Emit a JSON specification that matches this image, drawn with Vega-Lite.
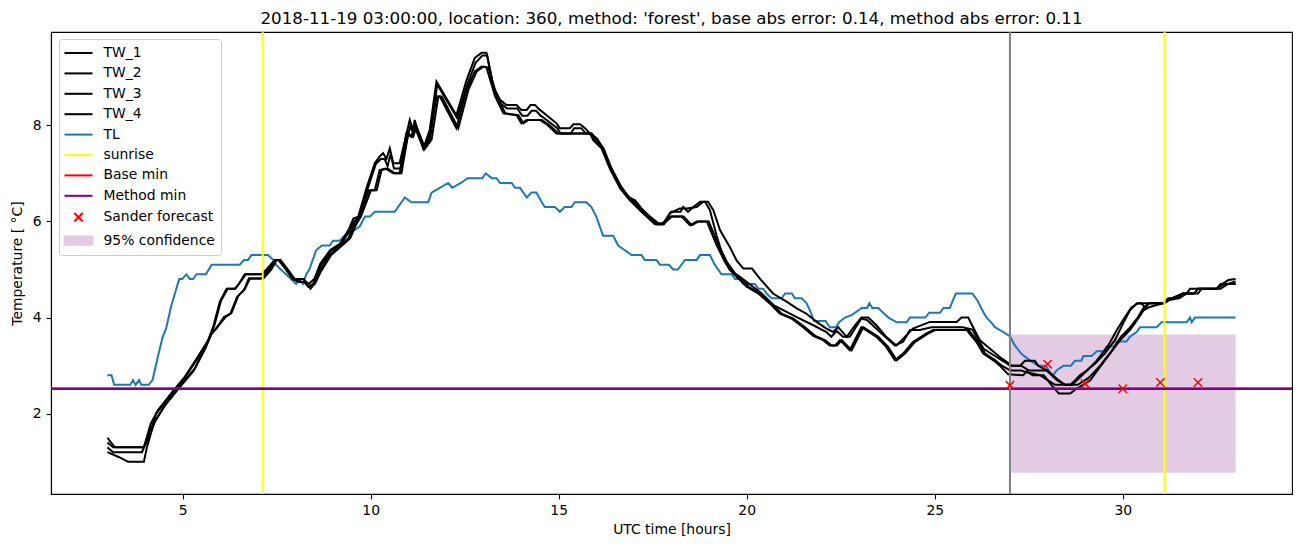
{
"$schema": "https://vega.github.io/schema/vega-lite/v6.json",
"autosize": "none",
"width": 1241, "height": 462,
"padding": {"left": 51, "top": 32, "right": 10, "bottom": 53},
"background": "white",
"config": {
  "font": "DejaVu Sans",
  "view": {"stroke": "black", "strokeWidth": 1.1},
  "axis": {"grid": false, "domainColor": "black", "tickColor": "black", "labelColor": "black", "titleColor": "black", "labelFont": "DejaVu Sans", "titleFont": "DejaVu Sans", "labelFontSize": 13.9, "titleFontSize": 13.9, "titleFontWeight": "normal", "tickSize": 4.9, "tickWidth": 1.1, "domainWidth": 1.1, "labelPadding": 4.9},
  "legend": {"symbolStrokeWidth": 2}
},
"title": {"text": "2018-11-19 03:00:00, location: 360, method: 'forest', base abs error: 0.14, method abs error: 0.11", "fontSize": 16.7, "fontWeight": "normal", "font": "DejaVu Sans", "color": "black", "anchor": "middle", "offset": 3},
"datasets": {
"lines": [
{"s":"TL","t":3.0,"v":2.8},{"s":"TL","t":3.11,"v":2.8},{"s":"TL","t":3.18,"v":2.6},{"s":"TL","t":3.61,"v":2.6},{"s":"TL","t":3.68,"v":2.7},{"s":"TL","t":3.75,"v":2.6},{"s":"TL","t":3.84,"v":2.7},{"s":"TL","t":3.9,"v":2.6},{"s":"TL","t":4.1,"v":2.6},{"s":"TL","t":4.2,"v":2.7},{"s":"TL","t":4.34,"v":3.18},{"s":"TL","t":4.47,"v":3.6},{"s":"TL","t":4.56,"v":3.77},{"s":"TL","t":4.69,"v":4.22},{"s":"TL","t":4.82,"v":4.57},{"s":"TL","t":4.91,"v":4.8},{"s":"TL","t":4.99,"v":4.8},{"s":"TL","t":5.1,"v":4.9},{"s":"TL","t":5.19,"v":4.8},{"s":"TL","t":5.28,"v":4.8},{"s":"TL","t":5.37,"v":4.9},{"s":"TL","t":5.62,"v":4.9},{"s":"TL","t":5.77,"v":5.1},{"s":"TL","t":6.52,"v":5.1},{"s":"TL","t":6.63,"v":5.2},{"s":"TL","t":6.74,"v":5.2},{"s":"TL","t":6.83,"v":5.3},{"s":"TL","t":7.27,"v":5.3},{"s":"TL","t":7.41,"v":5.2},{"s":"TL","t":7.48,"v":5.1},{"s":"TL","t":7.61,"v":5.0},{"s":"TL","t":7.75,"v":4.9},{"s":"TL","t":7.88,"v":4.8},{"s":"TL","t":8.02,"v":4.7},{"s":"TL","t":8.11,"v":4.8},{"s":"TL","t":8.2,"v":4.7},{"s":"TL","t":8.29,"v":4.9},{"s":"TL","t":8.37,"v":5.0},{"s":"TL","t":8.55,"v":5.4},{"s":"TL","t":8.7,"v":5.5},{"s":"TL","t":8.91,"v":5.5},{"s":"TL","t":9.0,"v":5.6},{"s":"TL","t":9.18,"v":5.6},{"s":"TL","t":9.3,"v":5.7},{"s":"TL","t":9.53,"v":5.8},{"s":"TL","t":9.71,"v":5.9},{"s":"TL","t":9.85,"v":6.1},{"s":"TL","t":9.98,"v":6.1},{"s":"TL","t":10.11,"v":6.2},{"s":"TL","t":10.64,"v":6.2},{"s":"TL","t":10.91,"v":6.5},{"s":"TL","t":11.08,"v":6.4},{"s":"TL","t":11.53,"v":6.4},{"s":"TL","t":11.62,"v":6.6},{"s":"TL","t":11.84,"v":6.7},{"s":"TL","t":12.06,"v":6.8},{"s":"TL","t":12.17,"v":6.7},{"s":"TL","t":12.4,"v":6.8},{"s":"TL","t":12.58,"v":6.9},{"s":"TL","t":12.97,"v":6.9},{"s":"TL","t":13.06,"v":7.0},{"s":"TL","t":13.22,"v":6.9},{"s":"TL","t":13.35,"v":6.9},{"s":"TL","t":13.44,"v":6.8},{"s":"TL","t":13.75,"v":6.8},{"s":"TL","t":13.84,"v":6.7},{"s":"TL","t":13.97,"v":6.7},{"s":"TL","t":14.06,"v":6.6},{"s":"TL","t":14.15,"v":6.5},{"s":"TL","t":14.28,"v":6.6},{"s":"TL","t":14.41,"v":6.6},{"s":"TL","t":14.55,"v":6.4},{"s":"TL","t":14.63,"v":6.3},{"s":"TL","t":14.9,"v":6.3},{"s":"TL","t":15.03,"v":6.2},{"s":"TL","t":15.16,"v":6.3},{"s":"TL","t":15.34,"v":6.3},{"s":"TL","t":15.43,"v":6.4},{"s":"TL","t":15.74,"v":6.4},{"s":"TL","t":15.87,"v":6.3},{"s":"TL","t":16.0,"v":6.1},{"s":"TL","t":16.18,"v":5.7},{"s":"TL","t":16.45,"v":5.7},{"s":"TL","t":16.58,"v":5.5},{"s":"TL","t":16.76,"v":5.4},{"s":"TL","t":16.94,"v":5.3},{"s":"TL","t":17.2,"v":5.3},{"s":"TL","t":17.29,"v":5.2},{"s":"TL","t":17.6,"v":5.2},{"s":"TL","t":17.69,"v":5.1},{"s":"TL","t":17.93,"v":5.1},{"s":"TL","t":18.04,"v":5.0},{"s":"TL","t":18.17,"v":5.0},{"s":"TL","t":18.36,"v":5.2},{"s":"TL","t":18.67,"v":5.2},{"s":"TL","t":18.76,"v":5.3},{"s":"TL","t":19.02,"v":5.3},{"s":"TL","t":19.15,"v":5.1},{"s":"TL","t":19.33,"v":4.9},{"s":"TL","t":19.6,"v":4.9},{"s":"TL","t":19.69,"v":4.8},{"s":"TL","t":19.82,"v":4.8},{"s":"TL","t":19.91,"v":4.7},{"s":"TL","t":20.22,"v":4.7},{"s":"TL","t":20.31,"v":4.6},{"s":"TL","t":20.44,"v":4.6},{"s":"TL","t":20.53,"v":4.5},{"s":"TL","t":20.66,"v":4.4},{"s":"TL","t":20.93,"v":4.4},{"s":"TL","t":21.02,"v":4.5},{"s":"TL","t":21.2,"v":4.5},{"s":"TL","t":21.28,"v":4.4},{"s":"TL","t":21.46,"v":4.4},{"s":"TL","t":21.59,"v":4.3},{"s":"TL","t":21.68,"v":4.15},{"s":"TL","t":21.79,"v":3.93},{"s":"TL","t":22.1,"v":3.93},{"s":"TL","t":22.21,"v":3.8},{"s":"TL","t":22.37,"v":3.8},{"s":"TL","t":22.45,"v":3.9},{"s":"TL","t":22.61,"v":4.0},{"s":"TL","t":22.79,"v":4.05},{"s":"TL","t":22.88,"v":4.1},{"s":"TL","t":23.06,"v":4.2},{"s":"TL","t":23.2,"v":4.2},{"s":"TL","t":23.26,"v":4.3},{"s":"TL","t":23.34,"v":4.2},{"s":"TL","t":23.5,"v":4.2},{"s":"TL","t":23.63,"v":4.1},{"s":"TL","t":23.77,"v":4.0},{"s":"TL","t":23.99,"v":3.9},{"s":"TL","t":24.25,"v":3.9},{"s":"TL","t":24.34,"v":4.0},{"s":"TL","t":24.75,"v":4.0},{"s":"TL","t":24.85,"v":4.1},{"s":"TL","t":25.14,"v":4.1},{"s":"TL","t":25.23,"v":4.2},{"s":"TL","t":25.4,"v":4.2},{"s":"TL","t":25.56,"v":4.5},{"s":"TL","t":26.0,"v":4.5},{"s":"TL","t":26.14,"v":4.35},{"s":"TL","t":26.3,"v":4.1},{"s":"TL","t":26.38,"v":4.0},{"s":"TL","t":26.5,"v":3.9},{"s":"TL","t":26.6,"v":3.8},{"s":"TL","t":26.82,"v":3.7},{"s":"TL","t":27.0,"v":3.61},{"s":"TL","t":27.13,"v":3.42},{"s":"TL","t":27.31,"v":3.24},{"s":"TL","t":27.53,"v":3.11},{"s":"TL","t":27.75,"v":3.0},{"s":"TL","t":27.95,"v":3.0},{"s":"TL","t":28.06,"v":2.87},{"s":"TL","t":28.15,"v":2.8},{"s":"TL","t":28.24,"v":2.9},{"s":"TL","t":28.42,"v":3.0},{"s":"TL","t":28.62,"v":3.0},{"s":"TL","t":28.73,"v":3.1},{"s":"TL","t":28.9,"v":3.1},{"s":"TL","t":28.95,"v":3.2},{"s":"TL","t":29.17,"v":3.2},{"s":"TL","t":29.31,"v":3.3},{"s":"TL","t":29.5,"v":3.3},{"s":"TL","t":29.57,"v":3.4},{"s":"TL","t":29.78,"v":3.4},{"s":"TL","t":29.84,"v":3.5},{"s":"TL","t":30.1,"v":3.5},{"s":"TL","t":30.19,"v":3.6},{"s":"TL","t":30.37,"v":3.7},{"s":"TL","t":30.46,"v":3.8},{"s":"TL","t":30.9,"v":3.8},{"s":"TL","t":31.03,"v":3.9},{"s":"TL","t":31.7,"v":3.9},{"s":"TL","t":31.79,"v":4.0},{"s":"TL","t":31.83,"v":3.9},{"s":"TL","t":31.92,"v":4.0},{"s":"TL","t":33.0,"v":4.0},

{"s":"TW_1","t":3.0,"v":1.5},{"s":"TW_1","t":3.1,"v":1.4},{"s":"TW_1","t":3.2,"v":1.3},{"s":"TW_1","t":3.97,"v":1.3},{"s":"TW_1","t":4.15,"v":1.79},{"s":"TW_1","t":4.34,"v":2.07},{"s":"TW_1","t":4.69,"v":2.42},{"s":"TW_1","t":5.05,"v":2.76},{"s":"TW_1","t":5.4,"v":3.18},{"s":"TW_1","t":5.68,"v":3.53},{"s":"TW_1","t":5.81,"v":3.8},{"s":"TW_1","t":5.99,"v":4.33},{"s":"TW_1","t":6.17,"v":4.6},{"s":"TW_1","t":6.39,"v":4.6},{"s":"TW_1","t":6.5,"v":4.7},{"s":"TW_1","t":6.65,"v":4.9},{"s":"TW_1","t":7.1,"v":4.9},{"s":"TW_1","t":7.23,"v":5.0},{"s":"TW_1","t":7.45,"v":5.2},{"s":"TW_1","t":7.55,"v":5.2},{"s":"TW_1","t":7.75,"v":5.0},{"s":"TW_1","t":7.93,"v":4.8},{"s":"TW_1","t":8.2,"v":4.8},{"s":"TW_1","t":8.35,"v":4.7},{"s":"TW_1","t":8.5,"v":4.8},{"s":"TW_1","t":8.66,"v":5.12},{"s":"TW_1","t":8.92,"v":5.4},{"s":"TW_1","t":9.19,"v":5.54},{"s":"TW_1","t":9.41,"v":5.82},{"s":"TW_1","t":9.54,"v":6.06},{"s":"TW_1","t":9.67,"v":6.1},{"s":"TW_1","t":9.9,"v":6.72},{"s":"TW_1","t":10.11,"v":7.21},{"s":"TW_1","t":10.24,"v":7.35},{"s":"TW_1","t":10.33,"v":7.42},{"s":"TW_1","t":10.42,"v":7.3},{"s":"TW_1","t":10.51,"v":7.52},{"s":"TW_1","t":10.6,"v":7.21},{"s":"TW_1","t":10.77,"v":7.21},{"s":"TW_1","t":11.04,"v":8.11},{"s":"TW_1","t":11.13,"v":7.9},{"s":"TW_1","t":11.17,"v":8.11},{"s":"TW_1","t":11.4,"v":7.52},{"s":"TW_1","t":11.57,"v":7.9},{"s":"TW_1","t":11.75,"v":8.91},{"s":"TW_1","t":12.28,"v":8.21},{"s":"TW_1","t":12.55,"v":8.94},{"s":"TW_1","t":12.77,"v":9.4},{"s":"TW_1","t":12.95,"v":9.51},{"s":"TW_1","t":13.08,"v":9.51},{"s":"TW_1","t":13.26,"v":8.8},{"s":"TW_1","t":13.44,"v":8.53},{"s":"TW_1","t":13.61,"v":8.42},{"s":"TW_1","t":13.88,"v":8.42},{"s":"TW_1","t":14.01,"v":8.32},{"s":"TW_1","t":14.15,"v":8.32},{"s":"TW_1","t":14.25,"v":8.42},{"s":"TW_1","t":14.37,"v":8.42},{"s":"TW_1","t":14.5,"v":8.32},{"s":"TW_1","t":14.68,"v":8.21},{"s":"TW_1","t":14.94,"v":8.04},{"s":"TW_1","t":15.03,"v":7.94},{"s":"TW_1","t":15.3,"v":7.94},{"s":"TW_1","t":15.39,"v":8.02},{"s":"TW_1","t":15.57,"v":8.02},{"s":"TW_1","t":15.7,"v":7.94},{"s":"TW_1","t":15.83,"v":7.83},{"s":"TW_1","t":16.01,"v":7.73},{"s":"TW_1","t":16.18,"v":7.52},{"s":"TW_1","t":16.36,"v":7.14},{"s":"TW_1","t":16.63,"v":6.76},{"s":"TW_1","t":16.85,"v":6.51},{"s":"TW_1","t":17.03,"v":6.44},{"s":"TW_1","t":17.2,"v":6.27},{"s":"TW_1","t":17.43,"v":6.1},{"s":"TW_1","t":17.65,"v":5.96},{"s":"TW_1","t":17.78,"v":5.96},{"s":"TW_1","t":17.96,"v":6.17},{"s":"TW_1","t":18.22,"v":6.27},{"s":"TW_1","t":18.4,"v":6.27},{"s":"TW_1","t":18.67,"v":6.3},{"s":"TW_1","t":18.84,"v":6.41},{"s":"TW_1","t":18.97,"v":6.41},{"s":"TW_1","t":19.11,"v":6.24},{"s":"TW_1","t":19.29,"v":5.82},{"s":"TW_1","t":19.55,"v":5.47},{"s":"TW_1","t":19.73,"v":5.19},{"s":"TW_1","t":19.91,"v":5.02},{"s":"TW_1","t":20.14,"v":5.02},{"s":"TW_1","t":20.35,"v":4.81},{"s":"TW_1","t":20.7,"v":4.5},{"s":"TW_1","t":21.06,"v":4.33},{"s":"TW_1","t":21.33,"v":4.19},{"s":"TW_1","t":21.59,"v":4.08},{"s":"TW_1","t":21.86,"v":3.91},{"s":"TW_1","t":22.12,"v":3.77},{"s":"TW_1","t":22.3,"v":3.7},{"s":"TW_1","t":22.43,"v":3.8},{"s":"TW_1","t":22.66,"v":3.6},{"s":"TW_1","t":22.88,"v":3.84},{"s":"TW_1","t":23.05,"v":4.0},{"s":"TW_1","t":23.23,"v":4.0},{"s":"TW_1","t":23.45,"v":3.84},{"s":"TW_1","t":23.71,"v":3.6},{"s":"TW_1","t":23.98,"v":3.42},{"s":"TW_1","t":24.16,"v":3.56},{"s":"TW_1","t":24.42,"v":3.77},{"s":"TW_1","t":24.87,"v":3.91},{"s":"TW_1","t":25.58,"v":3.91},{"s":"TW_1","t":25.71,"v":4.0},{"s":"TW_1","t":25.89,"v":4.0},{"s":"TW_1","t":26.02,"v":3.8},{"s":"TW_1","t":26.2,"v":3.53},{"s":"TW_1","t":26.47,"v":3.35},{"s":"TW_1","t":26.73,"v":3.18},{"s":"TW_1","t":26.91,"v":3.08},{"s":"TW_1","t":27.04,"v":3.0},{"s":"TW_1","t":27.27,"v":3.0},{"s":"TW_1","t":27.4,"v":3.1},{"s":"TW_1","t":27.66,"v":3.1},{"s":"TW_1","t":27.75,"v":3.0},{"s":"TW_1","t":27.98,"v":2.9},{"s":"TW_1","t":28.24,"v":2.73},{"s":"TW_1","t":28.46,"v":2.6},{"s":"TW_1","t":28.6,"v":2.6},{"s":"TW_1","t":28.73,"v":2.69},{"s":"TW_1","t":28.86,"v":2.8},{"s":"TW_1","t":29.04,"v":2.9},{"s":"TW_1","t":29.26,"v":3.04},{"s":"TW_1","t":29.52,"v":3.25},{"s":"TW_1","t":29.79,"v":3.53},{"s":"TW_1","t":30.01,"v":3.88},{"s":"TW_1","t":30.19,"v":4.15},{"s":"TW_1","t":30.37,"v":4.29},{"s":"TW_1","t":30.5,"v":4.29},{"s":"TW_1","t":30.6,"v":4.2},{"s":"TW_1","t":30.7,"v":4.3},{"s":"TW_1","t":31.08,"v":4.3},{"s":"TW_1","t":31.21,"v":4.4},{"s":"TW_1","t":31.5,"v":4.4},{"s":"TW_1","t":31.7,"v":4.5},{"s":"TW_1","t":31.79,"v":4.6},{"s":"TW_1","t":32.49,"v":4.6},{"s":"TW_1","t":32.59,"v":4.67},{"s":"TW_1","t":32.81,"v":4.78},{"s":"TW_1","t":33.0,"v":4.8},

{"s":"TW_2","t":3.0,"v":1.3},{"s":"TW_2","t":3.15,"v":1.2},{"s":"TW_2","t":3.92,"v":1.2},{"s":"TW_2","t":4.12,"v":1.6},{"s":"TW_2","t":4.3,"v":2.0},{"s":"TW_2","t":4.69,"v":2.4},{"s":"TW_2","t":5.05,"v":2.74},{"s":"TW_2","t":5.4,"v":3.15},{"s":"TW_2","t":5.7,"v":3.55},{"s":"TW_2","t":5.85,"v":3.85},{"s":"TW_2","t":6.02,"v":4.35},{"s":"TW_2","t":6.2,"v":4.6},{"s":"TW_2","t":6.4,"v":4.6},{"s":"TW_2","t":6.68,"v":4.9},{"s":"TW_2","t":7.12,"v":4.9},{"s":"TW_2","t":7.26,"v":5.0},{"s":"TW_2","t":7.47,"v":5.2},{"s":"TW_2","t":7.57,"v":5.2},{"s":"TW_2","t":7.77,"v":5.0},{"s":"TW_2","t":7.95,"v":4.8},{"s":"TW_2","t":8.22,"v":4.8},{"s":"TW_2","t":8.4,"v":4.6},{"s":"TW_2","t":8.5,"v":4.7},{"s":"TW_2","t":8.68,"v":5.1},{"s":"TW_2","t":8.95,"v":5.4},{"s":"TW_2","t":9.2,"v":5.5},{"s":"TW_2","t":9.43,"v":5.8},{"s":"TW_2","t":9.56,"v":6.0},{"s":"TW_2","t":9.7,"v":6.1},{"s":"TW_2","t":9.93,"v":6.7},{"s":"TW_2","t":10.14,"v":7.2},{"s":"TW_2","t":10.27,"v":7.3},{"s":"TW_2","t":10.37,"v":7.3},{"s":"TW_2","t":10.45,"v":7.15},{"s":"TW_2","t":10.53,"v":7.4},{"s":"TW_2","t":10.62,"v":7.1},{"s":"TW_2","t":10.79,"v":7.1},{"s":"TW_2","t":11.06,"v":8.0},{"s":"TW_2","t":11.14,"v":7.8},{"s":"TW_2","t":11.19,"v":8.0},{"s":"TW_2","t":11.42,"v":7.5},{"s":"TW_2","t":11.6,"v":7.85},{"s":"TW_2","t":11.77,"v":8.85},{"s":"TW_2","t":12.3,"v":8.15},{"s":"TW_2","t":12.57,"v":8.85},{"s":"TW_2","t":12.79,"v":9.3},{"s":"TW_2","t":12.97,"v":9.45},{"s":"TW_2","t":13.1,"v":9.45},{"s":"TW_2","t":13.28,"v":8.75},{"s":"TW_2","t":13.46,"v":8.45},{"s":"TW_2","t":13.63,"v":8.35},{"s":"TW_2","t":13.9,"v":8.35},{"s":"TW_2","t":14.03,"v":8.2},{"s":"TW_2","t":14.17,"v":8.2},{"s":"TW_2","t":14.28,"v":8.3},{"s":"TW_2","t":14.4,"v":8.3},{"s":"TW_2","t":14.52,"v":8.2},{"s":"TW_2","t":14.7,"v":8.1},{"s":"TW_2","t":14.96,"v":7.94},{"s":"TW_2","t":15.05,"v":7.83},{"s":"TW_2","t":15.32,"v":7.83},{"s":"TW_2","t":15.41,"v":7.94},{"s":"TW_2","t":15.6,"v":7.94},{"s":"TW_2","t":15.72,"v":7.83},{"s":"TW_2","t":15.86,"v":7.83},{"s":"TW_2","t":16.03,"v":7.7},{"s":"TW_2","t":16.2,"v":7.5},{"s":"TW_2","t":16.38,"v":7.1},{"s":"TW_2","t":16.65,"v":6.72},{"s":"TW_2","t":16.87,"v":6.5},{"s":"TW_2","t":17.05,"v":6.4},{"s":"TW_2","t":17.22,"v":6.25},{"s":"TW_2","t":17.45,"v":6.05},{"s":"TW_2","t":17.62,"v":5.94},{"s":"TW_2","t":17.8,"v":5.94},{"s":"TW_2","t":17.98,"v":6.2},{"s":"TW_2","t":18.24,"v":6.2},{"s":"TW_2","t":18.31,"v":6.3},{"s":"TW_2","t":18.44,"v":6.2},{"s":"TW_2","t":18.58,"v":6.3},{"s":"TW_2","t":18.76,"v":6.41},{"s":"TW_2","t":18.89,"v":6.41},{"s":"TW_2","t":19.02,"v":6.24},{"s":"TW_2","t":19.2,"v":5.7},{"s":"TW_2","t":19.4,"v":5.2},{"s":"TW_2","t":19.55,"v":4.99},{"s":"TW_2","t":19.82,"v":4.85},{"s":"TW_2","t":20.4,"v":4.5},{"s":"TW_2","t":20.71,"v":4.26},{"s":"TW_2","t":21.06,"v":4.12},{"s":"TW_2","t":21.41,"v":3.98},{"s":"TW_2","t":21.77,"v":3.84},{"s":"TW_2","t":22.12,"v":3.7},{"s":"TW_2","t":22.25,"v":3.6},{"s":"TW_2","t":22.39,"v":3.72},{"s":"TW_2","t":22.56,"v":3.6},{"s":"TW_2","t":22.74,"v":3.6},{"s":"TW_2","t":23.05,"v":3.98},{"s":"TW_2","t":23.2,"v":3.95},{"s":"TW_2","t":23.5,"v":3.73},{"s":"TW_2","t":23.94,"v":3.42},{"s":"TW_2","t":24.16,"v":3.5},{"s":"TW_2","t":24.34,"v":3.74},{"s":"TW_2","t":24.6,"v":3.74},{"s":"TW_2","t":24.92,"v":3.8},{"s":"TW_2","t":25.75,"v":3.8},{"s":"TW_2","t":26.0,"v":3.75},{"s":"TW_2","t":26.15,"v":3.55},{"s":"TW_2","t":26.3,"v":3.35},{"s":"TW_2","t":26.6,"v":3.2},{"s":"TW_2","t":26.85,"v":3.08},{"s":"TW_2","t":27.0,"v":3.0},{"s":"TW_2","t":27.3,"v":3.0},{"s":"TW_2","t":27.5,"v":2.9},{"s":"TW_2","t":27.98,"v":2.9},{"s":"TW_2","t":28.24,"v":2.7},{"s":"TW_2","t":28.46,"v":2.6},{"s":"TW_2","t":28.65,"v":2.6},{"s":"TW_2","t":28.85,"v":2.75},{"s":"TW_2","t":29.05,"v":2.9},{"s":"TW_2","t":29.3,"v":3.1},{"s":"TW_2","t":29.6,"v":3.4},{"s":"TW_2","t":29.85,"v":3.75},{"s":"TW_2","t":30.05,"v":4.0},{"s":"TW_2","t":30.22,"v":4.2},{"s":"TW_2","t":30.4,"v":4.3},{"s":"TW_2","t":31.1,"v":4.3},{"s":"TW_2","t":31.3,"v":4.4},{"s":"TW_2","t":31.6,"v":4.5},{"s":"TW_2","t":32.0,"v":4.5},{"s":"TW_2","t":32.1,"v":4.6},{"s":"TW_2","t":32.6,"v":4.6},{"s":"TW_2","t":32.8,"v":4.7},{"s":"TW_2","t":33.0,"v":4.75},

{"s":"TW_3","t":3.0,"v":1.4},{"s":"TW_3","t":3.15,"v":1.3},{"s":"TW_3","t":3.97,"v":1.3},{"s":"TW_3","t":4.1,"v":1.5},{"s":"TW_3","t":4.27,"v":1.85},{"s":"TW_3","t":4.55,"v":2.2},{"s":"TW_3","t":4.9,"v":2.55},{"s":"TW_3","t":5.33,"v":2.95},{"s":"TW_3","t":5.6,"v":3.35},{"s":"TW_3","t":5.77,"v":3.66},{"s":"TW_3","t":5.95,"v":3.83},{"s":"TW_3","t":6.13,"v":4.0},{"s":"TW_3","t":6.3,"v":4.1},{"s":"TW_3","t":6.48,"v":4.45},{"s":"TW_3","t":6.66,"v":4.6},{"s":"TW_3","t":6.79,"v":4.81},{"s":"TW_3","t":7.15,"v":4.81},{"s":"TW_3","t":7.36,"v":5.0},{"s":"TW_3","t":7.5,"v":5.19},{"s":"TW_3","t":7.6,"v":5.2},{"s":"TW_3","t":7.8,"v":5.0},{"s":"TW_3","t":7.98,"v":4.8},{"s":"TW_3","t":8.15,"v":4.74},{"s":"TW_3","t":8.28,"v":4.74},{"s":"TW_3","t":8.39,"v":4.64},{"s":"TW_3","t":8.52,"v":4.7},{"s":"TW_3","t":8.67,"v":4.95},{"s":"TW_3","t":8.95,"v":5.3},{"s":"TW_3","t":9.24,"v":5.5},{"s":"TW_3","t":9.46,"v":5.65},{"s":"TW_3","t":9.59,"v":5.9},{"s":"TW_3","t":9.74,"v":6.1},{"s":"TW_3","t":10.01,"v":6.65},{"s":"TW_3","t":10.16,"v":6.65},{"s":"TW_3","t":10.29,"v":7.07},{"s":"TW_3","t":10.45,"v":7.1},{"s":"TW_3","t":10.65,"v":7.0},{"s":"TW_3","t":10.82,"v":7.0},{"s":"TW_3","t":11.0,"v":7.83},{"s":"TW_3","t":11.13,"v":7.76},{"s":"TW_3","t":11.22,"v":7.97},{"s":"TW_3","t":11.45,"v":7.52},{"s":"TW_3","t":11.62,"v":7.7},{"s":"TW_3","t":11.8,"v":8.6},{"s":"TW_3","t":11.89,"v":8.6},{"s":"TW_3","t":12.33,"v":7.94},{"s":"TW_3","t":12.6,"v":8.74},{"s":"TW_3","t":12.82,"v":9.12},{"s":"TW_3","t":13.0,"v":9.22},{"s":"TW_3","t":13.13,"v":9.2},{"s":"TW_3","t":13.36,"v":8.6},{"s":"TW_3","t":13.58,"v":8.25},{"s":"TW_3","t":13.93,"v":8.21},{"s":"TW_3","t":14.06,"v":8.04},{"s":"TW_3","t":14.2,"v":8.11},{"s":"TW_3","t":14.55,"v":8.11},{"s":"TW_3","t":14.73,"v":8.02},{"s":"TW_3","t":14.99,"v":7.83},{"s":"TW_3","t":15.3,"v":7.83},{"s":"TW_3","t":15.88,"v":7.83},{"s":"TW_3","t":15.97,"v":7.69},{"s":"TW_3","t":16.19,"v":7.52},{"s":"TW_3","t":16.41,"v":7.1},{"s":"TW_3","t":16.68,"v":6.69},{"s":"TW_3","t":16.93,"v":6.45},{"s":"TW_3","t":17.25,"v":6.2},{"s":"TW_3","t":17.61,"v":5.94},{"s":"TW_3","t":17.78,"v":5.94},{"s":"TW_3","t":18.01,"v":6.1},{"s":"TW_3","t":18.32,"v":6.1},{"s":"TW_3","t":18.54,"v":5.92},{"s":"TW_3","t":18.72,"v":6.0},{"s":"TW_3","t":18.99,"v":6.0},{"s":"TW_3","t":19.12,"v":5.75},{"s":"TW_3","t":19.25,"v":5.51},{"s":"TW_3","t":19.47,"v":5.16},{"s":"TW_3","t":19.69,"v":4.92},{"s":"TW_3","t":20.05,"v":4.64},{"s":"TW_3","t":20.36,"v":4.5},{"s":"TW_3","t":20.67,"v":4.29},{"s":"TW_3","t":20.93,"v":4.08},{"s":"TW_3","t":21.24,"v":3.98},{"s":"TW_3","t":21.55,"v":3.8},{"s":"TW_3","t":21.82,"v":3.62},{"s":"TW_3","t":22.08,"v":3.53},{"s":"TW_3","t":22.26,"v":3.42},{"s":"TW_3","t":22.4,"v":3.42},{"s":"TW_3","t":22.53,"v":3.53},{"s":"TW_3","t":22.79,"v":3.32},{"s":"TW_3","t":23.1,"v":3.8},{"s":"TW_3","t":23.5,"v":3.6},{"s":"TW_3","t":23.76,"v":3.39},{"s":"TW_3","t":23.99,"v":3.11},{"s":"TW_3","t":24.21,"v":3.25},{"s":"TW_3","t":24.47,"v":3.49},{"s":"TW_3","t":24.83,"v":3.67},{"s":"TW_3","t":25.01,"v":3.74},{"s":"TW_3","t":25.9,"v":3.74},{"s":"TW_3","t":26.16,"v":3.49},{"s":"TW_3","t":26.34,"v":3.25},{"s":"TW_3","t":26.61,"v":3.11},{"s":"TW_3","t":26.78,"v":3.0},{"s":"TW_3","t":26.9,"v":2.95},{"s":"TW_3","t":27.0,"v":2.9},{"s":"TW_3","t":27.3,"v":2.9},{"s":"TW_3","t":27.5,"v":2.85},{"s":"TW_3","t":27.8,"v":2.8},{"s":"TW_3","t":28.0,"v":2.7},{"s":"TW_3","t":28.2,"v":2.6},{"s":"TW_3","t":28.8,"v":2.6},{"s":"TW_3","t":29.1,"v":2.75},{"s":"TW_3","t":29.4,"v":3.0},{"s":"TW_3","t":29.7,"v":3.3},{"s":"TW_3","t":29.95,"v":3.6},{"s":"TW_3","t":30.2,"v":3.8},{"s":"TW_3","t":30.4,"v":4.0},{"s":"TW_3","t":30.55,"v":4.2},{"s":"TW_3","t":30.7,"v":4.3},{"s":"TW_3","t":31.1,"v":4.3},{"s":"TW_3","t":31.3,"v":4.4},{"s":"TW_3","t":31.6,"v":4.5},{"s":"TW_3","t":31.9,"v":4.5},{"s":"TW_3","t":32.0,"v":4.6},{"s":"TW_3","t":32.5,"v":4.6},{"s":"TW_3","t":32.7,"v":4.7},{"s":"TW_3","t":33.0,"v":4.7},

{"s":"TW_4","t":3.0,"v":1.2},{"s":"TW_4","t":3.3,"v":1.1},{"s":"TW_4","t":3.55,"v":1.0},{"s":"TW_4","t":3.97,"v":1.0},{"s":"TW_4","t":4.05,"v":1.3},{"s":"TW_4","t":4.23,"v":1.79},{"s":"TW_4","t":4.5,"v":2.14},{"s":"TW_4","t":4.86,"v":2.49},{"s":"TW_4","t":5.3,"v":2.9},{"s":"TW_4","t":5.57,"v":3.32},{"s":"TW_4","t":5.74,"v":3.63},{"s":"TW_4","t":5.92,"v":3.8},{"s":"TW_4","t":6.1,"v":4.01},{"s":"TW_4","t":6.27,"v":4.08},{"s":"TW_4","t":6.45,"v":4.43},{"s":"TW_4","t":6.63,"v":4.57},{"s":"TW_4","t":6.76,"v":4.81},{"s":"TW_4","t":7.1,"v":4.81},{"s":"TW_4","t":7.31,"v":5.0},{"s":"TW_4","t":7.45,"v":5.19},{"s":"TW_4","t":7.55,"v":5.2},{"s":"TW_4","t":7.75,"v":5.0},{"s":"TW_4","t":7.93,"v":4.8},{"s":"TW_4","t":8.1,"v":4.74},{"s":"TW_4","t":8.23,"v":4.74},{"s":"TW_4","t":8.34,"v":4.64},{"s":"TW_4","t":8.47,"v":4.7},{"s":"TW_4","t":8.62,"v":4.95},{"s":"TW_4","t":8.9,"v":5.3},{"s":"TW_4","t":9.19,"v":5.5},{"s":"TW_4","t":9.41,"v":5.65},{"s":"TW_4","t":9.54,"v":5.9},{"s":"TW_4","t":9.69,"v":6.1},{"s":"TW_4","t":9.96,"v":6.65},{"s":"TW_4","t":10.11,"v":6.65},{"s":"TW_4","t":10.24,"v":7.07},{"s":"TW_4","t":10.4,"v":7.1},{"s":"TW_4","t":10.6,"v":7.0},{"s":"TW_4","t":10.77,"v":7.0},{"s":"TW_4","t":10.95,"v":7.83},{"s":"TW_4","t":11.08,"v":7.76},{"s":"TW_4","t":11.17,"v":7.97},{"s":"TW_4","t":11.4,"v":7.52},{"s":"TW_4","t":11.57,"v":7.7},{"s":"TW_4","t":11.75,"v":8.6},{"s":"TW_4","t":11.84,"v":8.6},{"s":"TW_4","t":12.28,"v":7.94},{"s":"TW_4","t":12.55,"v":8.74},{"s":"TW_4","t":12.77,"v":9.12},{"s":"TW_4","t":12.95,"v":9.22},{"s":"TW_4","t":13.08,"v":9.2},{"s":"TW_4","t":13.31,"v":8.6},{"s":"TW_4","t":13.53,"v":8.25},{"s":"TW_4","t":13.88,"v":8.21},{"s":"TW_4","t":14.01,"v":8.04},{"s":"TW_4","t":14.15,"v":8.11},{"s":"TW_4","t":14.5,"v":8.11},{"s":"TW_4","t":14.68,"v":8.02},{"s":"TW_4","t":14.94,"v":7.83},{"s":"TW_4","t":15.25,"v":7.83},{"s":"TW_4","t":15.83,"v":7.83},{"s":"TW_4","t":15.92,"v":7.69},{"s":"TW_4","t":16.14,"v":7.52},{"s":"TW_4","t":16.36,"v":7.1},{"s":"TW_4","t":16.63,"v":6.69},{"s":"TW_4","t":16.88,"v":6.45},{"s":"TW_4","t":17.2,"v":6.2},{"s":"TW_4","t":17.56,"v":5.94},{"s":"TW_4","t":17.73,"v":5.94},{"s":"TW_4","t":17.96,"v":6.1},{"s":"TW_4","t":18.27,"v":6.1},{"s":"TW_4","t":18.49,"v":5.92},{"s":"TW_4","t":18.67,"v":6.0},{"s":"TW_4","t":18.94,"v":6.0},{"s":"TW_4","t":19.07,"v":5.75},{"s":"TW_4","t":19.2,"v":5.51},{"s":"TW_4","t":19.42,"v":5.16},{"s":"TW_4","t":19.64,"v":4.92},{"s":"TW_4","t":20.0,"v":4.64},{"s":"TW_4","t":20.31,"v":4.5},{"s":"TW_4","t":20.62,"v":4.29},{"s":"TW_4","t":20.88,"v":4.08},{"s":"TW_4","t":21.19,"v":3.98},{"s":"TW_4","t":21.5,"v":3.8},{"s":"TW_4","t":21.77,"v":3.62},{"s":"TW_4","t":22.03,"v":3.53},{"s":"TW_4","t":22.21,"v":3.42},{"s":"TW_4","t":22.35,"v":3.42},{"s":"TW_4","t":22.48,"v":3.53},{"s":"TW_4","t":22.74,"v":3.32},{"s":"TW_4","t":23.05,"v":3.8},{"s":"TW_4","t":23.45,"v":3.6},{"s":"TW_4","t":23.71,"v":3.39},{"s":"TW_4","t":23.94,"v":3.11},{"s":"TW_4","t":24.16,"v":3.25},{"s":"TW_4","t":24.42,"v":3.49},{"s":"TW_4","t":24.78,"v":3.67},{"s":"TW_4","t":24.96,"v":3.74},{"s":"TW_4","t":25.85,"v":3.74},{"s":"TW_4","t":26.11,"v":3.49},{"s":"TW_4","t":26.29,"v":3.25},{"s":"TW_4","t":26.56,"v":3.11},{"s":"TW_4","t":26.73,"v":3.0},{"s":"TW_4","t":26.95,"v":2.82},{"s":"TW_4","t":27.35,"v":2.8},{"s":"TW_4","t":27.45,"v":2.88},{"s":"TW_4","t":27.6,"v":2.8},{"s":"TW_4","t":27.9,"v":2.8},{"s":"TW_4","t":28.1,"v":2.6},{"s":"TW_4","t":28.3,"v":2.42},{"s":"TW_4","t":28.6,"v":2.42},{"s":"TW_4","t":28.77,"v":2.52},{"s":"TW_4","t":29.13,"v":2.69},{"s":"TW_4","t":29.39,"v":2.97},{"s":"TW_4","t":29.66,"v":3.25},{"s":"TW_4","t":29.93,"v":3.53},{"s":"TW_4","t":30.19,"v":3.74},{"s":"TW_4","t":30.41,"v":3.98},{"s":"TW_4","t":30.55,"v":4.15},{"s":"TW_4","t":30.72,"v":4.22},{"s":"TW_4","t":31.08,"v":4.3},{"s":"TW_4","t":31.21,"v":4.36},{"s":"TW_4","t":31.46,"v":4.4},{"s":"TW_4","t":31.6,"v":4.5},{"s":"TW_4","t":31.9,"v":4.5},{"s":"TW_4","t":32.0,"v":4.6},{"s":"TW_4","t":32.5,"v":4.6},{"s":"TW_4","t":32.6,"v":4.7},{"s":"TW_4","t":33.0,"v":4.7}
]
},
"layer": [
 {
  "data": {"values": [{"s": "95% confidence", "t": 27, "t2": 33, "v": 0.77, "v2": 3.65}]},
  "mark": {"type": "rect", "opacity": 1},
  "encoding": {
   "x": {"field": "t", "type": "quantitative", "scale": {"domain": [1.5, 34.5], "nice": false, "zero": false}, "axis": {"values": [5,10,15,20,25,30], "format": "d", "title": "UTC time [hours]", "titlePadding": 5}},
   "x2": {"field": "t2"},
   "y": {"field": "v", "type": "quantitative", "scale": {"domain": [0.33, 9.94], "nice": false, "zero": false}, "axis": {"values": [2,4,6,8], "format": "d", "title": "Temperature [ °C]", "titlePadding": 8}},
   "y2": {"field": "v2"},
   "color": {"field": "s", "type": "nominal",
     "scale": {"domain": ["TW_1","TW_2","TW_3","TW_4","TL","sunrise","Base min","Method min","Sander forecast","95% confidence"],
               "range": ["#000000","#000000","#000000","#000000","#1f77b4","#ffff00","#ff0000","#800080","#ff0000","#e3cce3"]},
     "legend": {"title": null, "orient": "none", "legendX": 8, "legendY": 7, "padding": 6, "fillColor": "rgba(255,255,255,0.8)", "strokeColor": "#cccccc", "cornerRadius": 3,
       "labelFont": "DejaVu Sans", "labelFontSize": 13.9, "labelColor": "black", "labelLimit": 300,
       "symbolSize": 196, "symbolStrokeWidth": 2, "symbolOffset": 5.5, "labelOffset": 17, "rowPadding": 5.4}
   }
  }
 },
 {
  "data": {"name": "lines"},
  "mark": {"type": "line", "strokeWidth": 2},
  "encoding": {
   "x": {"field": "t", "type": "quantitative"},
   "y": {"field": "v", "type": "quantitative"},
   "color": {"field": "s", "type": "nominal", "legend": null}
  }
 },
 {
  "data": {"values": [{"s": "sunrise", "t": 7.13}, {"s": "sunrise", "t": 31.11}]},
  "mark": {"type": "rule", "strokeWidth": 2},
  "encoding": {
   "x": {"field": "t", "type": "quantitative"},
   "color": {"field": "s", "type": "nominal", "legend": null}
  }
 },
 {
  "data": {"values": [{"s": "Base min", "v": 2.525}]},
  "mark": {"type": "rule", "strokeWidth": 2.6},
  "encoding": {
   "y": {"field": "v", "type": "quantitative"},
   "color": {"field": "s", "type": "nominal", "legend": null}
  }
 },
 {
  "data": {"values": [{"s": "Method min", "v": 2.515}]},
  "mark": {"type": "rule", "strokeWidth": 2},
  "encoding": {
   "y": {"field": "v", "type": "quantitative"},
   "color": {"field": "s", "type": "nominal", "legend": null}
  }
 },
 {
  "data": {"values": [{"t": 27}]},
  "mark": {"type": "rule", "strokeWidth": 2, "color": "#808080"},
  "encoding": {
   "x": {"field": "t", "type": "quantitative"}
  }
 },
 {
  "data": {"values": [
    {"s": "Sander forecast", "t": 27, "v": 2.59},
    {"s": "Sander forecast", "t": 28, "v": 3.03},
    {"s": "Sander forecast", "t": 29, "v": 2.625},
    {"s": "Sander forecast", "t": 30, "v": 2.52},
    {"s": "Sander forecast", "t": 31, "v": 2.65},
    {"s": "Sander forecast", "t": 32, "v": 2.65}
  ]},
  "mark": {"type": "point", "size": 196, "strokeWidth": 1.5, "filled": false, "opacity": 1},
  "encoding": {
   "x": {"field": "t", "type": "quantitative"},
   "y": {"field": "v", "type": "quantitative"},
   "color": {"field": "s", "type": "nominal", "legend": null},
   "shape": {"field": "s", "type": "nominal",
     "scale": {"domain": ["TW_1","TW_2","TW_3","TW_4","TL","sunrise","Base min","Method min","Sander forecast","95% confidence"],
               "range": ["M-2,0H2","M-2,0H2","M-2,0H2","M-2,0H2","M-2,0H2","M-2,0H2","M-2,0H2","M-2,0H2","M-0.6,-0.6L0.6,0.6M-0.6,0.6L0.6,-0.6","M-2,-0.6H2V0.6H-2Z"]},
     "legend": {"title": null, "orient": "none", "legendX": 8, "legendY": 7, "padding": 6, "fillColor": "rgba(255,255,255,0.8)", "strokeColor": "#cccccc", "cornerRadius": 3,
       "labelFont": "DejaVu Sans", "labelFontSize": 13.9, "labelColor": "black", "labelLimit": 300,
       "symbolSize": 196, "symbolStrokeWidth": 2, "symbolOffset": 5.5, "labelOffset": 17, "rowPadding": 5.4}
   }
  }
 }
]
}
